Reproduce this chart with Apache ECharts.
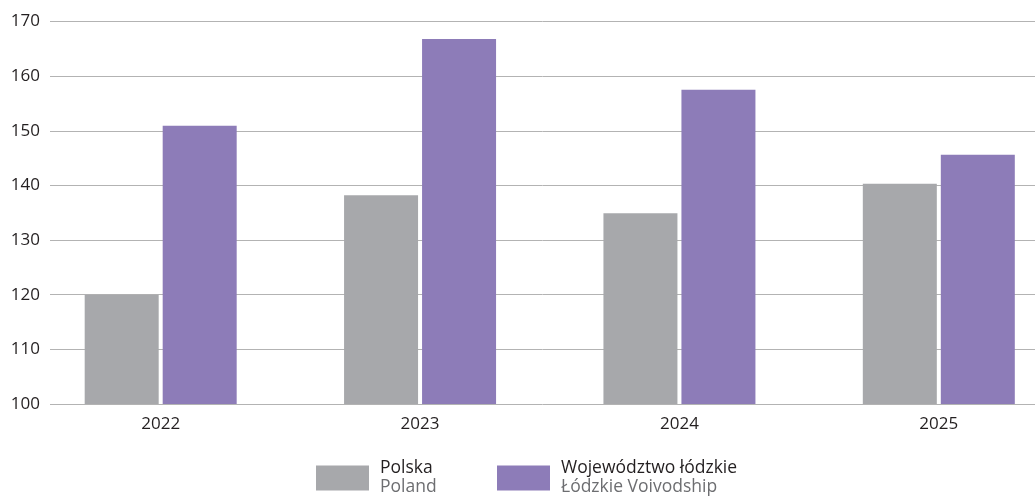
<!DOCTYPE html>
<html>
<head>
<meta charset="utf-8">
<script src="https://cdn.jsdelivr.net/npm/echarts@6/dist/echarts.min.js"></script>
<style>
  html, body { margin: 0; padding: 0; background: #fff; }
  #container { width: 1035px; height: 497px; }
</style>
</head>
<body>
<div id="container"></div>
<script>
// Data
const years = ['2022', '2023', '2024', '2025'];
const polska = [120.0, 138.2, 134.9, 140.3];
const lodzkie = [150.9, 166.8, 157.5, 145.6];
const yTicks = [100, 110, 120, 130, 140, 150, 160, 170];
const seriesNames = ['Polska', 'Województwo łódzkie'];
const seriesNamesEn = ['Poland', 'Łódzkie Voivodship'];

const font = '"Open Sans", "DejaVu Sans", sans-serif';
const chart = echarts.init(document.getElementById('container'));

function legendFor(i, left) {
  return {
    left: left,
    top: 459.5,
    padding: 0,
    itemWidth: 53,
    itemHeight: 25,
    icon: 'rect',
    data: [seriesNames[i]],
    formatter: function (name) {
      return '{a|' + name + '}\n{b|' + seriesNamesEn[i] + '}';
    },
    textStyle: {
      padding: [0, 0, 0, 6],
      rich: {
        a: { fontFamily: font, fontSize: 17.5, color: '#231f20', lineHeight: 19 },
        b: { fontFamily: font, fontSize: 17.5, color: '#6d6e71', lineHeight: 19 }
      }
    }
  };
}

const option = {
  animation: false,
  // grid 0 holds the y scale and gridlines, grid 1 holds the bars
  // (its bands run past the right edge of the canvas)
  grid: [
    { left: 50, right: 0, top: 21.5, bottom: 93 },
    { left: 31, width: 1037.5, top: 21.5, bottom: 93, outerBoundsMode: 'none' }
  ],
  legend: [legendFor(0, 316), legendFor(1, 497)],
  xAxis: [
    { gridIndex: 0, type: 'category', data: years, show: false },
    {
      gridIndex: 1,
      type: 'category',
      data: years,
      axisLine: { show: false },
      axisTick: { show: false },
      axisLabel: { fontFamily: font, fontSize: 17, color: '#231f20', margin: 12 }
    }
  ],
  yAxis: [
    {
      gridIndex: 0,
      type: 'value',
      min: yTicks[0],
      max: yTicks[yTicks.length - 1],
      interval: 10,
      axisLine: { show: false },
      axisTick: { show: false },
      axisLabel: { fontFamily: font, fontSize: 17, color: '#231f20', margin: 10 },
      splitLine: { lineStyle: { color: '#b3b3b3', width: 1 } }
    },
    {
      gridIndex: 1,
      type: 'value',
      min: yTicks[0],
      max: yTicks[yTicks.length - 1],
      interval: 10,
      show: false
    }
  ],
  series: [
    {
      name: seriesNames[0],
      type: 'bar',
      xAxisIndex: 1,
      yAxisIndex: 1,
      data: polska,
      barWidth: 74,
      barGap: '5.4%',
      itemStyle: { color: '#a7a8ab' }
    },
    {
      name: seriesNames[1],
      type: 'bar',
      xAxisIndex: 1,
      yAxisIndex: 1,
      data: lodzkie,
      barWidth: 74,
      barGap: '5.4%',
      itemStyle: { color: '#8d7cb8' }
    }
  ]
};

chart.setOption(option);
</script>
</body>
</html>
